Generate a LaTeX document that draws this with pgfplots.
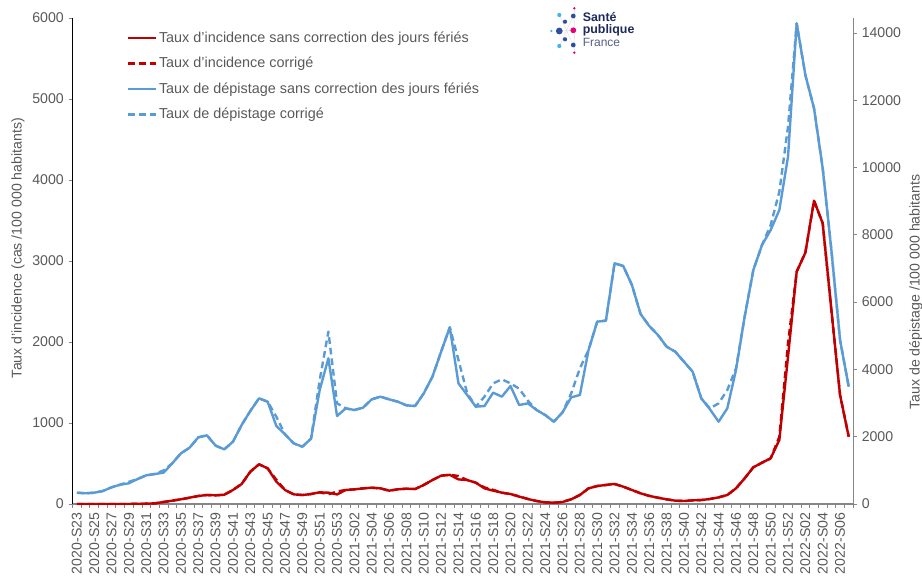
\documentclass[border=0pt]{standalone}
\usepackage{pgfplots}
\usepackage{pgfplotstable}
\pgfplotsset{compat=1.18}
\usepackage{fontspec}
\setmainfont{Liberation Sans}
\definecolor{cred}{HTML}{C00000}
\definecolor{cblue}{HTML}{5B9BD5}
\definecolor{ctxt}{HTML}{595959}
\definecolor{caxis}{HTML}{868686}
\definecolor{navy}{HTML}{1E2A5E}
\definecolor{spfpink}{HTML}{E6007E}
\definecolor{spfblue}{HTML}{2E4FA0}
\definecolor{spflight}{HTML}{3FB5E8}
\newcommand{\tfont}{\fontsize{10.6}{12.7}\selectfont}
\newcommand{\lfont}{\fontsize{10.8}{12.9}\selectfont}

\pgfplotstableread{
i inc incc dep depc
0 0 0 336 336
1 0 0 318 318
2 0 0 336 336
3 0 0 386 386
4 0 0 496 496
5 0 0 575 575
6 0 0 615 660
7 2 2 743 743
8 4 4 852 852
9 8 8 892 892
10 25 25 931 1000
11 41 41 1209 1209
12 58 58 1506 1506
13 78 78 1674 1674
14 99 99 1982 1982
15 111 111 2041 2041
16 107 107 1734 1734
17 115 115 1625 1625
18 173 173 1852 1852
19 247 247 2348 2348
20 399 399 2764 2764
21 490 490 3140 3140
22 440 440 3041 3041
23 276 300 2318 2594
24 173 173 2071 2071
25 119 119 1803 1803
26 111 111 1704 1704
27 123 123 1942 1942
28 144 144 3388 3685
29 140 120 4330 5122
30 118 155 2615 2992
31 173 173 2843 2843
32 181 181 2794 2794
33 193 193 2863 2863
34 201 201 3111 3111
35 193 193 3190 3190
36 165 165 3111 3111
37 181 181 3041 3041
38 189 189 2933 2933
39 185 185 2912 2912
40 235 235 3289 3289
41 296 296 3784 3784
42 350 350 4527 4527
43 360 360 5251 5251
44 304 346 3586 4280
45 296 296 3240 3300
46 263 263 2893 2893
47 193 205 2912 3190
48 165 175 3309 3586
49 140 140 3190 3705
50 123 123 3507 3586
51 91 95 2942 3428
52 62 62 2992 3071
53 37 37 2794 2794
54 21 21 2645 2645
55 16 16 2447 2447
56 25 25 2724 2724
57 58 58 3170 3289
58 111 111 3240 4032
59 193 193 4577 4577
60 222 222 5419 5419
61 235 235 5449 5449
62 247 247 7154 7154
63 214 214 7074 7074
64 173 173 6509 6509
65 132 132 5647 5647
66 100 100 5290 5290
67 78 78 5023 5023
68 58 58 4676 4676
69 41 41 4527 4527
70 37 37 4230 4230
71 45 45 3933 3933
72 49 49 3140 3140
73 62 62 2814 2843
74 82 82 2447 2992
75 111 111 2843 3388
76 193 193 3983 4032
77 317 317 5567 5567
78 453 453 6954 6954
79 510 510 7697 7697
80 564 564 8143 8292
81 790 831 8738 9282
82 1819 1984 10322 11213
83 2868 2868 14286 14286
84 3103 3103 12750 12750
85 3745 3745 11760 11760
86 3465 3465 9977 9977
87 2395 2395 7549 7549
88 1346 1346 4874 4874
89 831 831 3486 3486
}\datatable

\begin{document}
\begin{tikzpicture}
\useasboundingbox (0,0) rectangle (691.5pt,432pt);
\pgfplotsset{
  common/.style={
    scale only axis, width=585.4pt, height=364.5pt,
    at={(54.4pt,54pt)}, anchor=south west,
    xmin=-0.5, xmax=89.5,
    tick align=outside,
    major tick length=3pt, minor tick length=3pt,
    tick style={caxis, line width=0.6pt},
    tick label style={font=\tfont, text=ctxt},
    scaled y ticks=false,
    /pgf/number format/.cd, 1000 sep={}, assume math mode=true,
  },
  solidl/.style={line width=1.8pt, line join=round},
  dashl/.style={line width=1.8pt, line join=round, dash pattern=on 5pt off 3pt},
}
\begin{axis}[common,
  axis lines*=left,
  x axis line style={caxis, -, line width=0.8pt},
  y axis line style={black, -, line width=0.8pt},
  ymin=0, ymax=6000, ytick={0,1000,...,6000},
  xtick={0,2,...,88},
  xticklabels={2020-S23,2020-S25,2020-S27,2020-S29,2020-S31,2020-S33,2020-S35,2020-S37,2020-S39,2020-S41,2020-S43,2020-S45,2020-S47,2020-S49,2020-S51,2020-S53,2021-S02,2021-S04,2021-S06,2021-S08,2021-S10,2021-S12,2021-S14,2021-S16,2021-S18,2021-S20,2021-S22,2021-S24,2021-S26,2021-S28,2021-S30,2021-S32,2021-S34,2021-S36,2021-S38,2021-S40,2021-S42,2021-S44,2021-S46,2021-S48,2021-S50,2021-S52,2022-S02,2022-S04,2022-S06},
  every major x tick/.append style={draw opacity=0},
  minor xtick={-0.5,0.5,...,89.5},
  x tick label style={rotate=90, anchor=east},
]
\addplot[cred, dashl] table[x=i, y=incc] {\datatable};
\addplot[cred, solidl] table[x=i, y=inc] {\datatable};
\end{axis}
\begin{axis}[common,
  axis x line=none, axis y line*=right,
  y axis line style={caxis, -, line width=0.8pt},
  ymin=0, ymax=14445, ytick={0,2000,...,14000},
  legend style={at={(0.0698,0.975)}, anchor=north west, draw=none, fill=none,
    inner sep=0pt, row sep=7.7pt, font=\lfont, text=ctxt,
    nodes={inner sep=1pt, anchor=west}},
  legend cell align=left,
  legend image code/.code={\draw[#1] (0pt,0pt) -- (21pt,0pt);},
]
\addlegendimage{cred, solidl}
\addlegendentry{Taux d'incidence sans correction des jours fériés}
\addlegendimage{cred, dashl}
\addlegendentry{Taux d'incidence corrigé}
\addplot[cblue, dashl, forget plot] table[x=i, y=depc] {\datatable};
\addlegendimage{cblue, solidl}
\addlegendentry{Taux de dépistage sans correction des jours fériés}
\addlegendimage{cblue, dashl}
\addlegendentry{Taux de dépistage corrigé}
\addplot[cblue, solidl, forget plot] table[x=i, y=dep] {\datatable};
\end{axis}
\begin{scope}[x=0.75pt, y=-0.75pt, shift={(0pt,432pt)}]
\node[rotate=90, text=ctxt, font=\tfont] at (18,248) {Taux d'incidence (cas /100 000 habitants)};
\node[rotate=90, text=ctxt, font=\tfont] at (916,292) {Taux de dépistage /100 000 habitants};
% logo
\draw[black!12, line width=0.4pt] (559.3,31) -- (573.3,30.3) (574.3,8.3) -- (574.3,52.7) (559.3,15) -- (573.3,45) (559.3,46) -- (573.3,16);
\fill[spfpink] (574.3,8.3) circle (1.3);
\fill[spfblue] (573.3,16) circle (2.4);
\fill[spflight] (559.3,15) circle (2.1);
\fill[spfblue] (565,21.7) circle (2.1);
\fill[spflight] (551.3,31) circle (1.3);
\fill[spfblue] (559.3,31) circle (3.4);
\fill[spfpink] (573.3,30.3) circle (2.9);
\fill[spfblue] (565,39.3) circle (2.1);
\fill[spflight] (559.3,46) circle (2.1);
\fill[spfblue] (573.3,45) circle (2.4);
\fill[spfpink] (574.3,52.7) circle (1.3);
\node[anchor=base west, inner sep=0pt, text=navy, font=\fontsize{9.3}{11}\selectfont\bfseries] at (582.5,21.5) {Santé};
\node[anchor=base west, inner sep=0pt, text=navy, font=\fontsize{9.3}{11}\selectfont\bfseries] at (582.5,33.5) {publique};
\node[anchor=base west, inner sep=0pt, text=navy!75, font=\fontsize{9}{11}\selectfont] at (582.5,47) {France};
\end{scope}
\end{tikzpicture}
\end{document}
